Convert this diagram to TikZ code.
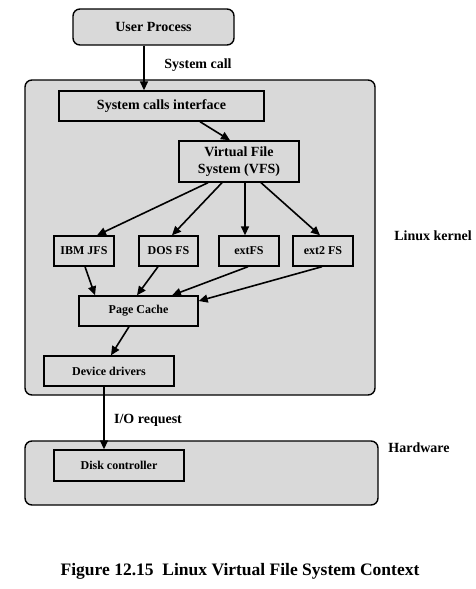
\documentclass[tikz,border=0pt]{standalone}
\usepackage{fontspec}
\setmainfont{Liberation Serif}
\usetikzlibrary{arrows.meta}
\definecolor{boxgray}{HTML}{D9D9D9}
\begin{document}
\begin{tikzpicture}[x=1pt,y=-1pt,
  every node/.style={font=\bfseries\fontsize{14}{17}\selectfont},
  region/.style={draw, line width=1.4pt, fill=boxgray, rounded corners=7pt, inner sep=0pt},
  box/.style={draw, line width=1.4pt, fill=boxgray, inner sep=0pt, align=center},
  fsbox/.style={box, font=\bfseries\fontsize{12}{14}\selectfont},
  lbl/.style={inner sep=0pt},
  arr/.style={-{Triangle[length=9pt,width=8pt]}, line width=1.6pt}
]
\useasboundingbox (0,0) rectangle (476,589);
\fill[white] (0,0) rectangle (476,589);

\node[region, minimum width=161pt, minimum height=36pt] (user) at (153.5,27) {User Process};
\node[region, minimum width=350pt, minimum height=315pt] (kernel) at (200,237.5) {};
\node[region, minimum width=353pt, minimum height=64pt] (hw) at (201.5,473) {};

\node[box, minimum width=205pt, minimum height=30pt] (sci) at (161.5,106) {System calls interface};
\node[box, minimum width=120pt, minimum height=41pt] (vfs) at (239,161.5) {Virtual File\\System (VFS)};

\node[fsbox, minimum width=60pt, minimum height=30pt] (ibm) at (84,251) {IBM JFS};
\node[fsbox, minimum width=59pt, minimum height=30pt] (dos) at (168.5,251) {DOS FS};
\node[fsbox, minimum width=60pt, minimum height=30pt] (ext) at (249,251) {extFS};
\node[fsbox, minimum width=60pt, minimum height=30pt] (ext2) at (323,251) {ext2 FS};

\node[fsbox, minimum width=119pt, minimum height=30pt] (page) at (138.5,311) {Page Cache};
\node[fsbox, minimum width=130pt, minimum height=30pt] (dev) at (109,371) {Device drivers};
\node[fsbox, minimum width=130pt, minimum height=31pt] (disk) at (119,465.5) {Disk controller};

\node[lbl] (syscall) at (198,65) {System call};
\node[lbl] (lk) at (433,236) {Linux kernel};
\node[lbl] (io) at (148,420) {I/O request};
\node[lbl] (hwl) at (419,448) {Hardware};
\node[lbl, font=\bfseries\fontsize{17.5}{20}\selectfont] (cap) at (240,571) {Figure 12.15\ \ Linux Virtual File System Context};

\draw[arr] ([xshift=-9.5pt]user.south) -- ([xshift=-17.5pt]sci.north);
\draw[arr] ([xshift=38.5pt]sci.south) -- ([xshift=-9pt]vfs.north);
\draw[arr] ([xshift=-31pt]vfs.south) -- ([xshift=13pt]ibm.north);
\draw[arr] ([xshift=-17pt]vfs.south) -- ([xshift=3.5pt]dos.north);
\draw[arr] ([xshift=6pt]vfs.south) -- ([xshift=-4pt]ext.north);
\draw[arr] ([xshift=22pt]vfs.south) -- ([xshift=-3pt]ext2.north);
\draw[arr] ([xshift=1pt]ibm.south) -- ([xshift=-43.5pt]page.north);
\draw[arr] ([xshift=-10.5pt]dos.south) -- ([xshift=-1.5pt]page.north);
\draw[arr] ([xshift=-1pt]ext.south) -- ([xshift=33.5pt]page.north);
\draw[arr] ([xshift=-1pt]ext2.south) -- ([yshift=10pt]page.east);
\draw[arr] ([xshift=-9.5pt]page.south) -- ([xshift=2pt]dev.north);
\draw[arr] ([xshift=-5pt]dev.south) -- ([xshift=-15pt]disk.north);
\end{tikzpicture}
\end{document}
